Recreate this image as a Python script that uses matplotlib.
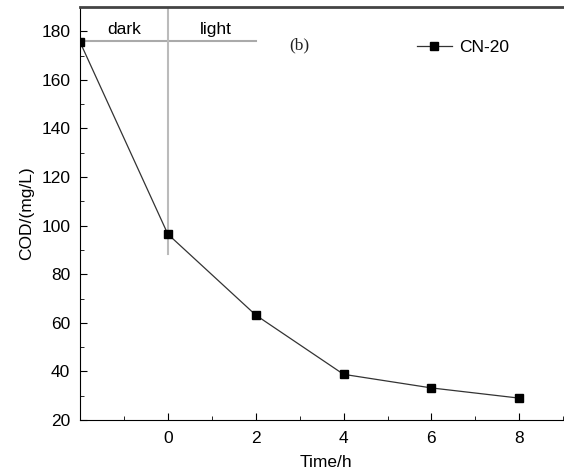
import matplotlib
matplotlib.use('Agg')
import matplotlib.pyplot as plt
from matplotlib.ticker import MultipleLocator

time_h = [-2, 0, 2, 4, 6, 8]
cod = [175.6, 96.5, 63.2, 38.8, 33.2, 29.0]
series_name = 'CN-20'

plt.rcParams['font.family'] = ['Liberation Sans', 'DejaVu Sans']

fig = plt.figure(figsize=(5.64, 4.76), dpi=100)
ax = fig.add_axes([80 / 564, 56 / 476, 492 / 564, 413 / 476])

ax.plot(time_h, cod, color='#333333', lw=0.9, marker='s', ms=5.2,
        mfc='black', mec='black', label=series_name)

# dark / light separation
ax.plot([-2, 2], [176, 176], color='#aaaaaa', lw=1.5, zorder=1)
ax.plot([0, 0], [88.5, 190], color='#bbbbbb', lw=1.5, zorder=1)
ax.text(-1, 179, 'dark', ha='center', va='baseline', fontsize=12.5)
ax.text(1.1, 179, 'light', ha='center', va='baseline', fontsize=12.5)
ax.text(3.0, 174, '(b)', ha='center', va='center', fontsize=12.5,
        family=['Liberation Serif', 'DejaVu Serif'], color='#222222')

ax.set_xlim(-2, 9.2)
ax.set_ylim(20, 190)
ax.xaxis.set_major_locator(MultipleLocator(2))
ax.xaxis.set_minor_locator(MultipleLocator(1))
ax.yaxis.set_major_locator(MultipleLocator(20))
ax.yaxis.set_minor_locator(MultipleLocator(10))
ax.set_xticks([0, 2, 4, 6, 8])
ax.tick_params(which='both', direction='in', labelsize=12.5, top=False, right=False)
ax.tick_params(which='major', length=5)
ax.tick_params(which='minor', length=3)
ax.tick_params(axis='x', pad=8)
ax.tick_params(axis='y', pad=7)
ax.spines['top'].set_linewidth(2)
ax.spines['top'].set_color('#444444')
ax.spines['right'].set_visible(False)

ax.set_xlabel('Time/h', fontsize=12.5, labelpad=6.5)
ax.set_ylabel('COD/(mg/L)', fontsize=12.5, labelpad=5)

ax.legend(loc='center left', bbox_to_anchor=((417 - 80) / 492, 1 - 40 / 413),
          frameon=False, fontsize=12.5, handlelength=2.0, handletextpad=0.4,
          borderaxespad=0, borderpad=0)

fig.savefig('out.png', dpi=100)
